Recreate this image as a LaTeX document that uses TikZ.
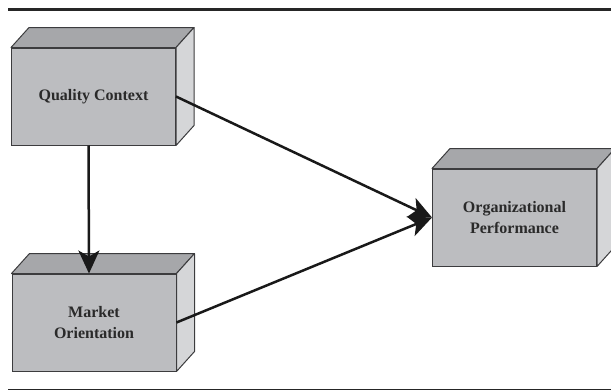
\documentclass[tikz,border=0pt]{standalone}
\usepackage{fontspec}
\setmainfont{Liberation Serif}
\usetikzlibrary{arrows.meta}
\usetikzlibrary{calc}
\usetikzlibrary{positioning}

\definecolor{frontgray}{HTML}{BCBDC0}
\definecolor{topgray}{HTML}{A6A7AA}
\definecolor{sidegray}{HTML}{D5D6D8}
\definecolor{edgegray}{HTML}{3C3C3E}
\definecolor{textgray}{HTML}{2A2A2A}

\begin{document}
\begin{tikzpicture}
[x=1pt,y=-1pt,>={Stealth[length=23pt,width=21pt,inset=6pt]},
 every node/.style={rectangle,fill=frontgray,draw=edgegray,line width=1pt,
   minimum width=164pt,minimum height=97pt,inner sep=0pt,align=center,
   text=textgray,font=\fontsize{16}{21}\selectfont\bfseries},
 topface/.style={fill=topgray,draw=edgegray,line width=1pt,line join=round},
 sideface/.style={fill=sidegray,draw=edgegray,line width=1pt,line join=round},
 link/.style={->,line width=2.5pt,black!90}]

\useasboundingbox (0,0) rectangle (611,391);

% rules
\draw[line width=2.4pt,black!85] (8,9.5) -- (611,9.5);
\draw[line width=1.4pt,black!85] (8,389.5) -- (611,389.5);

\node (qc) at (93.5,96.5) {Quality Context};
\node (mo) at (94,322.5) {Market\\Orientation};
\node (op) at (514.5,217.5) {Organizational\\Performance};

% top and side faces
\foreach \n in {qc,mo,op}{
  \draw[topface] (\n.north west) -- ++(18,-20) -- ($(\n.north east)+(18,-20)$)
    -- (\n.north east) -- cycle;
  \draw[sideface] (\n.north east) -- ++(18,-20) -- ($(\n.south east)+(18,-20)$)
    -- (\n.south east) -- cycle;
}

\draw[link] ([xshift=-5pt]qc.south) -- ([xshift=-5pt]mo.north);
\foreach \from in {qc,mo}
\draw[link] (\from.east) -- (op.west);

\end{tikzpicture}
\end{document}
